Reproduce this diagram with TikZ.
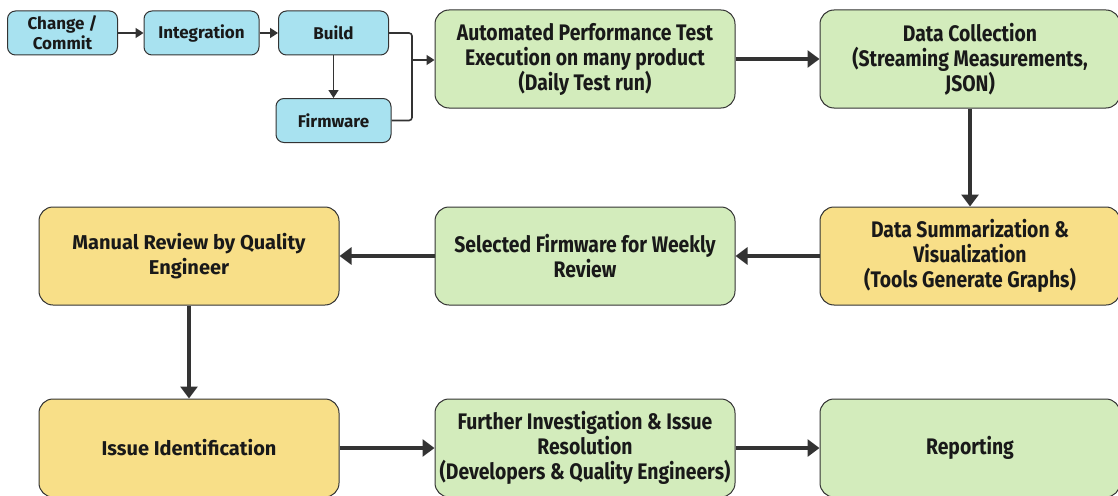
\documentclass[tikz,border=0pt]{standalone}
\usepackage{fontspec}
\setmainfont{Fira Sans}[UprightFont=* Bold, BoldFont=* Bold]
\newfontfamily\narrowfont{Fira Sans}[UprightFont=* Bold, FakeStretch=0.86]
\usetikzlibrary{arrows.meta}
\definecolor{bluefill}{HTML}{A8E2F0}
\definecolor{greenfill}{HTML}{D3ECBC}
\definecolor{yellowfill}{HTML}{F8DF88}
\definecolor{edge}{HTML}{333333}
\tikzset{
  x=1pt, y=-1pt,
  smallbox/.style={draw=edge, line width=1pt, rounded corners=8pt, fill=bluefill,
    minimum width=#1, minimum height=44pt, inner sep=0pt, align=center,
    font=\fontsize{17}{20}\selectfont, text=black!90},
  smallbox/.default=110pt,
  bigbox/.style={draw=edge, line width=1pt, rounded corners=14pt,
    minimum width=300pt, minimum height=98pt, inner sep=0pt, align=center,
    font=\narrowfont\fontsize{22.5}{25}\selectfont, text=black!90},
  widebox/.style={bigbox, font=\fontsize{20}{25}\selectfont},
  thin arrow/.style={draw=edge, line width=1.6pt, -{Triangle[length=8pt,width=10pt]}},
  thick arrow/.style={draw=edge, line width=3.2pt, -{Triangle[length=12pt,width=17pt]}},
}
\begin{document}
\begin{tikzpicture}
\useasboundingbox (0,0) rectangle (1118,495);
\clip (0,0) rectangle (1118,495);
\fill[white] (0,0) rectangle (1118,495);

% source-control pipeline
\node[smallbox] (commit) at (62.5,33) {Change /\\Commit};
\node[smallbox=115pt] (integ) at (201.5,33) {Integration};
\node[smallbox] (build) at (333.5,33) {Build};
\node[smallbox=115pt] (fw) at (333.5,120.5) {Firmware};

% main flow
\node[bigbox, fill=greenfill] (auto) at (585,59) {Automated Performance Test\\Execution on many product\\(Daily Test run)};
\node[bigbox, fill=greenfill] (collect) at (970,59) {Data Collection\\(Streaming Measurements,\\JSON)};
\node[bigbox, fill=yellowfill] (summ) at (970,256) {Data Summarization \&\\Visualization\\(Tools Generate Graphs)};
\node[bigbox, fill=greenfill] (select) at (585,256) {Selected Firmware for Weekly\\Review};
\node[widebox, fill=yellowfill] (manual) at (189,256) {Manual Review by Quality\\Engineer};
\node[widebox, fill=yellowfill] (issue) at (189,448) {Issue Identification};
\node[bigbox, fill=greenfill] (further) at (585,448) {Further Investigation \& Issue\\Resolution\\(Developers \& Quality Engineers)};
\node[bigbox, fill=greenfill] (report) at (970,448) {Reporting};

% merge point in front of the test execution box
\coordinate (join) at (412,60);

\draw[thin arrow] (commit) -- (integ);
\draw[thin arrow] (integ) -- (build);
\draw[thin arrow] (build) -- (fw);
\draw[draw=edge, line width=1.6pt, rounded corners=3pt] (build.east) -| (join);
\draw[draw=edge, line width=1.6pt, rounded corners=3pt] (fw.east) -| (join);
\draw[thin arrow] (join) -- (join -| auto.west);

\draw[thick arrow] (auto) -- (collect);
\draw[thick arrow] (collect) -- (summ);
\draw[thick arrow] (summ) -- (select);
\draw[thick arrow] (select) -- (manual);
\draw[thick arrow] (manual) -- (issue);
\draw[thick arrow] (issue) -- (further);
\draw[thick arrow] (further) -- (report);
\end{tikzpicture}
\end{document}
